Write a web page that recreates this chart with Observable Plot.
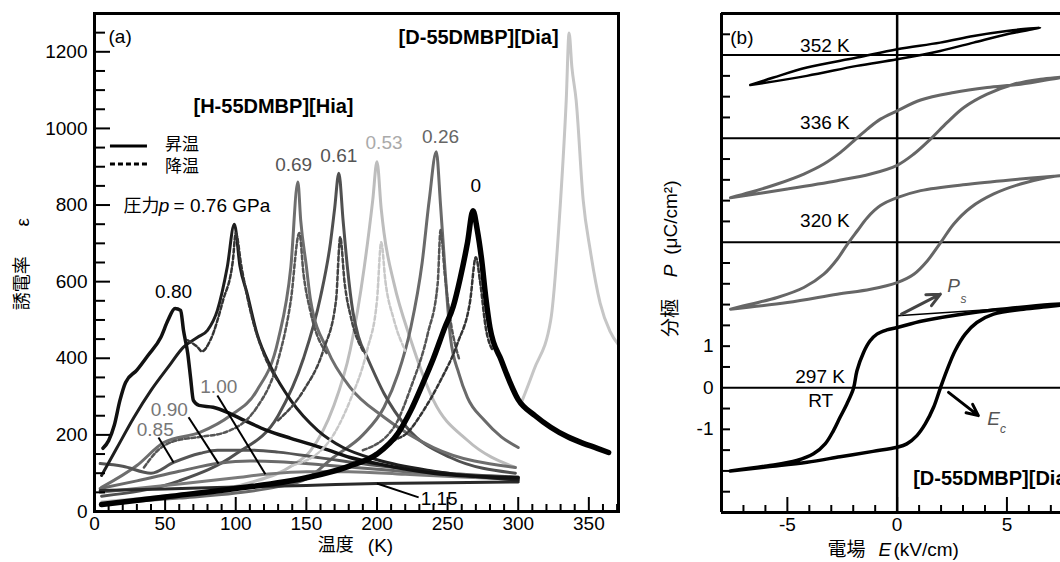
<!DOCTYPE html>
<html><head><meta charset="utf-8">
<script src="https://cdn.jsdelivr.net/npm/d3@7"></script>
<script src="https://cdn.jsdelivr.net/npm/@observablehq/plot@0.6"></script>
<style>
html,body{margin:0;padding:0;background:#fff;overflow:hidden;}
#wrap{position:relative;width:1060px;height:562px;overflow:hidden;}
#a{position:absolute;left:0;top:0;width:640px;}
#b{position:absolute;left:640px;top:0;width:420px;}
</style></head><body><div id="wrap"><div id="a"></div><div id="b"></div></div>
<script>
// ================= DATA: panel (a) dielectric constant vs temperature =================
// heating (solid)
const T_h000 = [5,50,100,150,180,200,215,224,232,240,248,254,259,264,268,271,274,277,280,288,300,312,323,335,346,356,364];
const e_h000 = [18,38,60,88,118,150,205,264,330,400,480,535,610,700,785,735,660,560,480,395,292,250,220,195,178,165,154];
const T_h026 = [5,60,100,130,150,169,190,205,215,224,232,237,242,245,248,252,258,264,276,288,300];
const e_h026 = [20,35,48,65,85,141,200,272,360,481,650,813,939,800,640,455,360,298,238,195,167];
const T_h053 = [5,60,110,140,153,169,181,191,197,200,203,205,212,224,240,264,298];
const e_h053 = [25,45,75,120,159,272,421,638,813,913,790,727,596,447,290,186,115];
const T_h061 = [5,60,100,130,148,160,167,170,173,176,179,183,187,193,205,221,252,298];
const e_h061 = [40,80,150,250,400,560,700,790,883,760,640,520,455,403,308,220,141,100];
const T_h069 = [5,30,49,75,96,115,130,139,144,146,150,153,165,181,205,240,298];
const e_h069 = [63,120,180,207,250,316,447,638,860,760,640,551,421,324,246,167,115];
const T_h076 = [5,16,28,40,52,63,73,80,87,94,99,103,108,115,125,139,158,176,200,240,300];
const e_h076 = [94,167,246,316,376,429,455,473,525,638,750,640,570,465,376,290,212,167,135,105,82];
const T_h080 = [6,10,14,18,22,30,38,47,52,57,61,63,66,68,70,74,84,94,106,122,139,162,181,200,240,300];
const e_h080 = [165,185,225,290,337,369,408,455,499,530,525,473,413,350,290,277,272,259,238,212,191,165,141,125,100,88];
const T_h085 = [4,20,40,56,75,87,110,130,160,200,250,300];
const e_h085 = [125,118,100,128,152,160,160,155,140,120,100,90];
const T_h090 = [4,30,60,88,110,130,160,200,250,300];
const e_h090 = [60,80,105,126,132,130,122,110,95,86];
const T_h100 = [4,50,100,121,150,180,220,260,300];
const e_h100 = [50,68,88,97,104,104,97,90,84];
const T_h115 = [4,50,100,150,200,250,300];
const e_h115 = [55,59,64,68,73,75,77];
const T_dia = [302,311,323,330,334,336,338,341,346,351,358,365,371];
const e_dia = [282,369,499,813,1074,1249,1160,1074,813,682,544,470,435];
// cooling (dashed)
const T_c000 = [200,212,221,233,245,257,266,270,273,277,282];
const e_c000 = [150,185,204,264,342,439,551,664,600,480,420];
const T_c026 = [190,212,224,236,243,245,248,252,258];
const e_c026 = [160,220,324,465,596,735,620,500,400];
const T_c053 = [140,165,181,193,200,203,206,212,220];
const e_c053 = [120,178,290,421,551,703,600,500,420];
const T_c061 = [130,148,162,171,174,177,182,190];
const e_c061 = [238,316,421,551,716,600,500,420];
const T_c069 = [35,45,55,75,91,115,130,139,145,148,153,165];
const e_c069 = [115,160,182,195,205,272,395,551,727,620,520,410];
const T_c076 = [66,73,76,82,91,98,100,104,110,120,130];
const e_c076 = [447,429,418,447,551,656,727,640,530,410,340];
// pressure labels
const peakLabels = ["0.69","0.61","0.53","0.26","0","0.80","1.00","0.90","0.85","1.15"];
const peakLabelT = [141,173,205,245,270,56,88,53,43,244];
const peakLabelE = [904,928,962,978,850,572,324,266,212,34];
const pointerT1 = [45.3,66.6,87,200], pointerE1 = [193,246,303,73];
const pointerT2 = [56,87.8,121,229.5], pointerE2 = [128,125,97,37];
const xTicksA = [0,50,100,150,200,250,300,350];
const yTicksA = [0,200,400,600,800,1000,1200];

// ================= DATA: panel (b) P-E hysteresis loops =================
const E_297 = [-7.6,-5.9,-4.1,-2.6,-1.1,0,0.44,0.9,1.28,1.66,1.96,2.26,2.64,3.1,3.63,4.39,5.75,7.0,8.0,7.0,5.0,3.5,1.2,0,-0.47,-0.92,-1.23,-1.53,-1.83,-1.99,-2.29,-2.6,-2.9,-3.28,-3.81,-4.57,-5.93,-7.6];
const P_297 = [-2.0,-1.9,-1.79,-1.66,-1.53,-1.43,-1.35,-1.15,-0.87,-0.47,-0.02,0.41,0.89,1.29,1.57,1.77,1.89,1.96,2.03,2.0,1.9,1.81,1.61,1.45,1.39,1.29,1.13,0.85,0.41,-0.02,-0.39,-0.71,-1.03,-1.35,-1.59,-1.75,-1.88,-2.0];
const E_320 = [-7.59,-5.0,-2.73,-1.21,0,0.76,1.37,1.98,2.58,3.34,4.4,5.62,6.68,7.44,8.0,7.44,5.62,3.34,1.07,0,-0.76,-1.36,-1.82,-2.27,-2.73,-3.34,-4.25,-5.46,-6.68,-7.59];
const P_320 = [1.89,2.05,2.25,2.37,2.53,2.73,3.05,3.49,3.94,4.33,4.66,4.9,5.04,5.1,5.13,5.1,5.02,4.9,4.74,4.57,4.38,4.09,3.77,3.45,3.09,2.73,2.41,2.17,2.01,1.89];
const E_336 = [-7.59,-5.0,-2.73,-1.21,0,0.76,1.52,2.28,3.04,4.1,5.31,6.53,7.44,8.0,7.44,5.62,4.1,2.58,1.07,0,-0.76,-1.36,-1.97,-2.58,-3.34,-4.25,-5.46,-6.68,-7.59];
const P_336 = [4.57,4.78,4.98,5.14,5.35,5.62,5.98,6.38,6.74,7.06,7.3,7.42,7.47,7.5,7.46,7.3,7.22,7.1,6.92,6.66,6.46,6.22,5.94,5.66,5.38,5.14,4.9,4.7,4.57];
const E_352 = [-6.69,-4.11,-1.83,0,1.96,3.48,5.0,6.51,5.0,3.48,1.96,0,-1.83,-4.11,-5.63,-6.69];
const P_352 = [7.28,7.5,7.74,7.9,8.1,8.3,8.5,8.66,8.58,8.46,8.3,8.14,7.94,7.7,7.46,7.28];
const E_psLine = [0, 7.44], P_psLine = [1.73, 1.99];
const baselinesP = [0, 3.5, 6, 8];
const loopLabels = ["352 K","336 K","320 K","297 K","RT"];
const loopLabelE = [-4.42,-4.42,-4.42,-4.64,-4.05];
const loopLabelP = [8.22,6.37,4.01,0.26,-0.31];
const yTicksB = [-2.5,-2,-1.5,-1,-0.5,0.5,1,1.5,2,2.5,3,4,4.5,5,5.5,6.5,7,7.5,8.5];
const yLabelsB = [-1,0,1];
const xMinorB = [-7,-6,-4,-3,-2,-1,1,2,3,4,6,7];
const xMajorB = [-5,0,5];

// ================= helpers =================
const FONT = "'Liberation Sans', Arial, Helvetica, sans-serif";
const JFONT = "'Noto Sans CJK JP', 'Liberation Sans', sans-serif";
const rows = (xs, ys) => xs.map((x, i) => ({x, y: ys[i]}));
const one = (x, y, t) => [{x, y, t}];
const txt = (x, y, t, o = {}) => Plot.text(one(x, y, t), {x: "x", y: "y", text: "t", textAnchor: "start", lineAnchor: "middle", fontSize: 19, fontFamily: FONT, fill: "#000", ...o});

// ================= panel (a) =================
const A = {width: 640, height: 562, ml: 94, mr: 22, mt: 13, mb: 51, xd: [0, 371], yd: [0, 1300]};
const AW = A.width - A.ml - A.mr, AH = A.height - A.mt - A.mb;
const axPx = (A.xd[1] - A.xd[0]) / AW, ayPx = (A.yd[1] - A.yd[0]) / AH; // data units per pixel
const heating = [
  [T_dia, e_dia, "#c6c6c6", 3],
  [T_h053, e_h053, "#bdbdbd", 3],
  [T_h026, e_h026, "#6a6a6a", 3],
  [T_h061, e_h061, "#505050", 3],
  [T_h069, e_h069, "#6e6e6e", 3],
  [T_h085, e_h085, "#555", 3],
  [T_h090, e_h090, "#6a6a6a", 3],
  [T_h100, e_h100, "#7a7a7a", 3],
  [T_h115, e_h115, "#2a2a2a", 3],
  [T_h076, e_h076, "#1e1e1e", 3],
  [T_h080, e_h080, "#111", 3.5]
];
const cooling = [
  [T_c053, e_c053, "#c8c8c8"],
  [T_c026, e_c026, "#555"],
  [T_c061, e_c061, "#444"],
  [T_c069, e_c069, "#555"],
  [T_c076, e_c076, "#333"],
  [T_c000, e_c000, "#333"]
];
const labelColors = ["#555","#555","#aaa","#666","#000","#000","#777","#777","#777","#000"];
const xMinorA = d3.range(10, 371, 10).filter(v => v % 50);
const yMinorA = d3.range(50, 1300, 50).filter(v => v % 200);

const marksA = [];
marksA.push(Plot.axisX({ticks: xTicksA, tickSize: 0, tickPadding: 5, fontSize: 19, tickFormat: d => String(d), label: null}));
marksA.push(Plot.axisY({ticks: yTicksA, tickSize: 0, tickPadding: 7, fontSize: 19, tickFormat: d => String(d), label: null}));
for (const [T, e, c, w] of heating) marksA.push(Plot.line(rows(T, e), {x: "x", y: "y", stroke: c, strokeWidth: w, curve: "monotone-x"}));
for (const [T, e, c] of cooling) marksA.push(Plot.line(rows(T, e), {x: "x", y: "y", stroke: c, strokeWidth: 2.5, strokeDasharray: "4,2.5", curve: "monotone-x"}));
marksA.push(Plot.line(rows(T_h000, e_h000), {x: "x", y: "y", stroke: "#000", strokeWidth: 5.5, curve: "monotone-x"}));
marksA.push(Plot.link(pointerT1.map((t, i) => ({x1: t, y1: pointerE1[i], x2: pointerT2[i], y2: pointerE2[i]})), {x1: "x1", y1: "y1", x2: "x2", y2: "y2", stroke: "#000", strokeWidth: 2}));
marksA.push(Plot.text(peakLabels.map((t, i) => ({t, x: peakLabelT[i], y: peakLabelE[i], c: labelColors[i]})), {x: "x", y: "y", text: "t", fill: d => d.c, fontSize: 19, fontFamily: FONT}));
// legend
marksA.push(Plot.ruleY([954], {x1: 11.3, x2: 37.5, stroke: "#000", strokeWidth: 3}));
marksA.push(Plot.ruleY([907], {x1: 11.3, x2: 37.5, stroke: "#000", strokeWidth: 3, strokeDasharray: "5,3"}));
marksA.push(txt(50, 959, "昇温", {fontFamily: JFONT, fontSize: 17}));
marksA.push(txt(50, 901, "降温", {fontFamily: JFONT, fontSize: 17}));
marksA.push(txt(20.5, 797, "圧力", {fontFamily: JFONT, fontSize: 18}));
marksA.push(txt(45.5, 797, "p", {fontStyle: "italic"}));
marksA.push(txt(56, 797, "= 0.76 GPa"));
marksA.push(txt(9.9, 1239, "(a)"));
marksA.push(txt(328.6, 1236, "[D-55DMBP][Dia]", {textAnchor: "end", fontWeight: "bold", fontSize: 20}));
marksA.push(txt(70.1, 1056, "[H-55DMBP][Hia]", {fontWeight: "bold", fontSize: 20}));
// axis titles
marksA.push(txt(-51, 596, "誘電率", {textAnchor: "middle", rotate: -90, fontFamily: JFONT, fontSize: 18}));
marksA.push(txt(-51, 755, "ε", {textAnchor: "middle", rotate: -90, fontSize: 19}));
marksA.push(txt(158, -89, "温度", {fontFamily: JFONT, fontSize: 18}));
marksA.push(txt(193.5, -89, "(K)", {fontSize: 19}));
marksA.push(Plot.frame({stroke: "#000", strokeWidth: 3}));
// inward ticks (rules; length given in pixels, converted to data units)
marksA.push(Plot.ruleX(xMinorA, {x: d => d, y1: A.yd[0], y2: A.yd[0] + 7 * ayPx, stroke: "#000", strokeWidth: 2}));
marksA.push(Plot.ruleX(xTicksA.slice(1), {x: d => d, y1: A.yd[0], y2: A.yd[0] + 14 * ayPx, stroke: "#000", strokeWidth: 2}));
marksA.push(Plot.ruleY(yMinorA, {y: d => d, x1: A.xd[0], x2: A.xd[0] + 11 * axPx, stroke: "#000", strokeWidth: 2}));
marksA.push(Plot.ruleY(yTicksA.slice(1), {y: d => d, x1: A.xd[0], x2: A.xd[0] + 16 * axPx, stroke: "#000", strokeWidth: 2}));

const plotA = Plot.plot({
  width: A.width, height: A.height,
  marginLeft: A.ml, marginRight: A.mr, marginTop: A.mt, marginBottom: A.mb,
  x: {domain: A.xd},
  y: {domain: A.yd},
  style: {fontFamily: FONT, fontSize: "19px", background: "white", color: "#000"},
  marks: marksA
});
document.getElementById("a").appendChild(plotA);

// ================= panel (b) =================
const B = {width: 420, height: 562, ml: 81, mr: 0, mt: 13, mb: 50, xd: [-8, 7.44], yd: [-3, 9]};
const BW = B.width - B.ml - B.mr, BH = B.height - B.mt - B.mb;
const bxPx = (B.xd[1] - B.xd[0]) / BW, byPx = (B.yd[1] - B.yd[0]) / BH;
const marksB = [];
marksB.push(Plot.axisX({ticks: xMajorB, tickSize: 0, tickPadding: 5, fontSize: 19, tickFormat: d => String(d), label: null}));
marksB.push(Plot.axisY({ticks: yLabelsB, tickSize: 0, tickPadding: 8, fontSize: 19, tickFormat: d => String(d), label: null}));
marksB.push(Plot.ruleY(baselinesP, {stroke: "#000", strokeWidth: 2}));
marksB.push(Plot.ruleX([0], {stroke: "#000", strokeWidth: 2.5}));
marksB.push(Plot.line(rows(E_320, P_320), {x: "x", y: "y", stroke: "#666", strokeWidth: 3, curve: "catmull-rom"}));
marksB.push(Plot.line(rows(E_336, P_336), {x: "x", y: "y", stroke: "#666", strokeWidth: 3, curve: "catmull-rom"}));
marksB.push(Plot.line(rows(E_352, P_352), {x: "x", y: "y", stroke: "#000", strokeWidth: 2.5, curve: "catmull-rom"}));
marksB.push(Plot.line(rows(E_297, P_297), {x: "x", y: "y", stroke: "#000", strokeWidth: 3.5, curve: "catmull-rom"}));
marksB.push(Plot.line(rows(E_psLine, P_psLine), {x: "x", y: "y", stroke: "#000", strokeWidth: 1.5}));
marksB.push(Plot.arrow([{x1: 0.2, y1: 1.77, x2: 1.97, y2: 2.25}], {x1: "x1", y1: "y1", x2: "x2", y2: "y2", stroke: "#444", strokeWidth: 3, headLength: 14, headAngle: 50}));
marksB.push(Plot.arrow([{x1: 2.34, y1: -0.11, x2: 3.7, y2: -0.67}], {x1: "x1", y1: "y1", x2: "x2", y2: "y2", stroke: "#000", strokeWidth: 3, headLength: 14, headAngle: 50}));
marksB.push(Plot.text(loopLabels.map((t, i) => ({t, x: loopLabelE[i], y: loopLabelP[i]})), {x: "x", y: "y", text: "t", textAnchor: "start", fontSize: 19, fontFamily: FONT, fill: "#000"}));
marksB.push(txt(-7.6, 8.41, "(b)"));
marksB.push(txt(2.28, 2.45, "P", {fontStyle: "italic", fill: "#555"}));
marksB.push(txt(2.89, 2.14, "s", {fontStyle: "italic", fill: "#555", fontSize: 12}));
marksB.push(txt(4.1, -0.76, "E", {fontStyle: "italic", fill: "#555"}));
marksB.push(txt(4.69, -1.0, "c", {fontStyle: "italic", fill: "#555", fontSize: 12}));
marksB.push(txt(0.73, -2.19, "[D-55DMBP][Dia]", {fontWeight: "bold", fontSize: 20}));
// axis titles
marksB.push(txt(-10.32, 1.68, "分極", {textAnchor: "middle", rotate: -90, fontFamily: JFONT, fontSize: 19}));
marksB.push(txt(-10.32, 2.81, "P", {textAnchor: "middle", rotate: -90, fontStyle: "italic"}));
marksB.push(txt(-10.32, 4.09, "(μC/cm²)", {textAnchor: "middle", rotate: -90}));
marksB.push(txt(-3.17, -3.9, "電場", {fontFamily: JFONT, fontSize: 19}));
marksB.push(txt(-0.85, -3.9, "E", {fontStyle: "italic"}));
marksB.push(txt(-0.17, -3.9, "(kV/cm)"));
marksB.push(Plot.ruleX([-8], {stroke: "#000", strokeWidth: 3}));
marksB.push(Plot.ruleY([-3, 9], {stroke: "#000", strokeWidth: 3}));
// inward ticks
marksB.push(Plot.ruleX(xMinorB, {x: d => d, y1: B.yd[0], y2: B.yd[0] + 7 * byPx, stroke: "#000", strokeWidth: 2}));
marksB.push(Plot.ruleX(xMajorB, {x: d => d, y1: B.yd[0], y2: B.yd[0] + 15 * byPx, stroke: "#000", strokeWidth: 2}));
marksB.push(Plot.ruleY(yTicksB, {y: d => d, x1: B.xd[0], x2: B.xd[0] + 9 * bxPx, stroke: "#000", strokeWidth: 2}));

const plotB = Plot.plot({
  width: B.width, height: B.height,
  marginLeft: B.ml, marginRight: B.mr, marginTop: B.mt, marginBottom: B.mb,
  x: {domain: B.xd},
  y: {domain: B.yd},
  style: {fontFamily: FONT, fontSize: "19px", background: "white", color: "#000"},
  marks: marksB
});
document.getElementById("b").appendChild(plotB);
</script></body></html>
